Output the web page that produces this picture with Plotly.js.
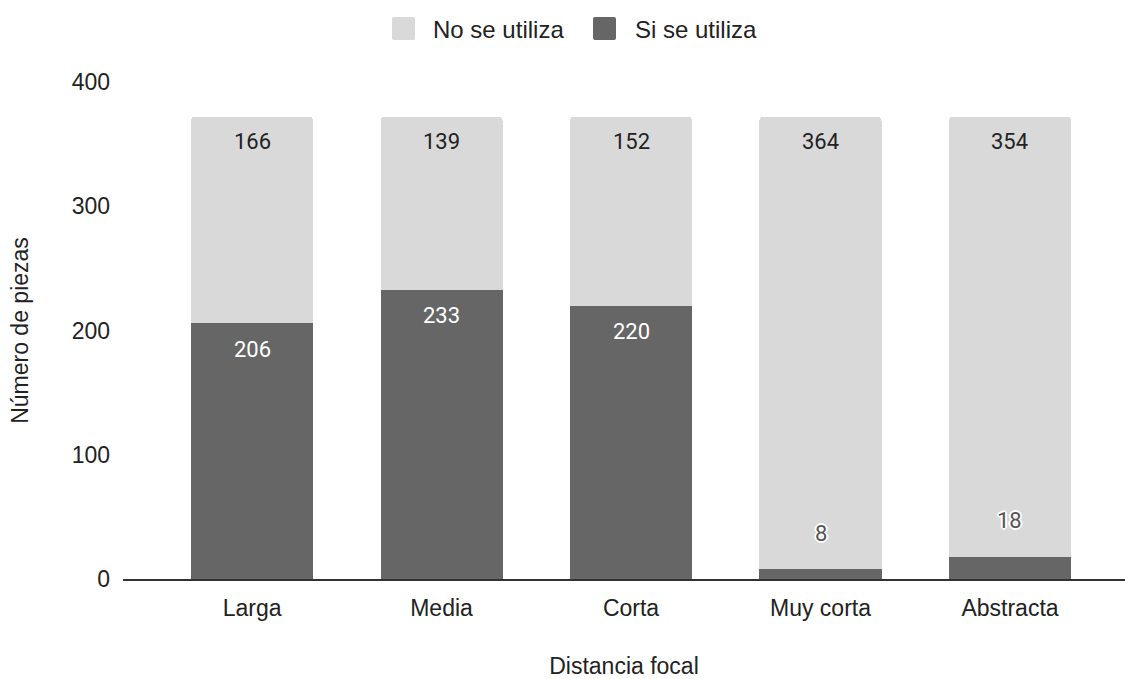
<!DOCTYPE html>
<html>
<head>
<meta charset="utf-8">
<script src="https://cdn.plot.ly/plotly-3.0.1.min.js"></script>
<style>html,body{margin:0;padding:0;background:#fff;}#chart{width:1125px;height:679px;}</style>
</head>
<body>
<div id="chart"></div>
<script>
const categories = ["Larga", "Media", "Corta", "Muy corta", "Abstracta"];
const siSeUtiliza = [206, 233, 220, 8, 18];
const noSeUtiliza = [166, 139, 152, 364, 354];
const seriesNames = ["No se utiliza", "Si se utiliza"];
const yTicks = [0, 100, 200, 300, 400];

const FONT = "'Liberation Sans', Arial, sans-serif";
const LFONT = "Roboto, Arial, sans-serif";
const DARK = "#666666";
const LIGHT = "#d9d9d9";
const TXT = "#222222";

const traceSi = {
  type: "bar", name: seriesNames[1], x: categories, y: siSeUtiliza,
  marker: {color: DARK}, hoverinfo: "x+y+name", showlegend: false
};
const traceNo = {
  type: "bar", name: seriesNames[0], x: categories, y: noSeUtiliza,
  marker: {color: LIGHT}, hoverinfo: "x+y+name", showlegend: false
};

const annotations = [];
categories.forEach((c, i) => {
  const si = siSeUtiliza[i];
  const no = noSeUtiliza[i];
  annotations.push({x: c, y: si + no, xref: "x", yref: "y", text: String(no),
    showarrow: false, yshift: -25, yanchor: "middle",
    font: {family: LFONT, size: 22, color: TXT}});
  if (si >= 40) {
    annotations.push({x: c, y: si, xref: "x", yref: "y", text: String(si),
      showarrow: false, yshift: -26, yanchor: "middle",
      font: {family: LFONT, size: 22, color: "#ffffff"}});
  } else {
    annotations.push({x: c, y: si, xref: "x", yref: "y", text: String(si),
      showarrow: false, yshift: 36, yanchor: "middle",
      font: {family: LFONT, size: 22, color: "#555555",
        shadow: "1px 1px 0 #fff, -1px -1px 0 #fff, 1px -1px 0 #fff, -1px 1px 0 #fff, 2px 0 0 #fff, -2px 0 0 #fff, 0 2px 0 #fff, 0 -2px 0 #fff"}});
  }
});

// Custom legend (large rounded swatches like the reference)
const L = 123, W = 1002, B = 579, H = 497;
const px = v => (v - L) / W;
const py = v => (B - v) / H;
const legendItems = [
  {name: seriesNames[0], color: LIGHT, x0: 392, x1: 415, tx: 431},
  {name: seriesNames[1], color: DARK, x0: 593, x1: 616, tx: 633}
];
const shapes = [];
legendItems.forEach(it => {
  const r = 2, y0 = 17, y1 = 40;
  const path = `M ${px(it.x0 + r)} ${py(y0)} L ${px(it.x1 - r)} ${py(y0)} Q ${px(it.x1)} ${py(y0)} ${px(it.x1)} ${py(y0 + r)} ` +
    `L ${px(it.x1)} ${py(y1 - r)} Q ${px(it.x1)} ${py(y1)} ${px(it.x1 - r)} ${py(y1)} L ${px(it.x0 + r)} ${py(y1)} ` +
    `Q ${px(it.x0)} ${py(y1)} ${px(it.x0)} ${py(y1 - r)} L ${px(it.x0)} ${py(y0 + r)} Q ${px(it.x0)} ${py(y0)} ${px(it.x0 + r)} ${py(y0)} Z`;
  shapes.push({type: "path", xref: "paper", yref: "paper", path: path,
    fillcolor: it.color, line: {width: 0}, layer: "above"});
  annotations.push({xref: "paper", yref: "paper", x: px(it.tx), y: py(29), xanchor: "left", yanchor: "middle",
    showarrow: false, text: it.name, font: {family: FONT, size: 24, color: TXT}});
});

const layout = {
  width: 1125, height: 679,
  margin: {l: 123, r: 0, t: 82, b: 100},
  paper_bgcolor: "#ffffff", plot_bgcolor: "#ffffff",
  font: {family: FONT, size: 23, color: TXT},
  barmode: "stack", bargap: 0.356, barcornerradius: 4,
  showlegend: false,
  xaxis: {
    type: "category", range: [-0.681, 4.607], showgrid: false, zeroline: false,
    showline: true, linecolor: "#333333", linewidth: 2, ticks: "", ticklabelstandoff: 7,
    tickfont: {family: FONT, size: 23, color: TXT},
    title: {text: "Distancia focal", standoff: 38, font: {family: FONT, size: 23, color: TXT}},
    fixedrange: true
  },
  yaxis: {
    range: [0, 400], tickvals: yTicks, ticktext: yTicks.map(String),
    showgrid: false, zeroline: false, showline: false, ticks: "", ticklabelstandoff: 12,
    tickfont: {family: FONT, size: 23, color: TXT},
    title: {text: "Número de piezas", standoff: 36, font: {family: FONT, size: 23, color: TXT}},
    fixedrange: true
  },
  shapes: shapes,
  annotations: annotations
};

Plotly.newPlot("chart", [traceSi, traceNo], layout, {displayModeBar: false, staticPlot: true});
</script>
</body>
</html>
